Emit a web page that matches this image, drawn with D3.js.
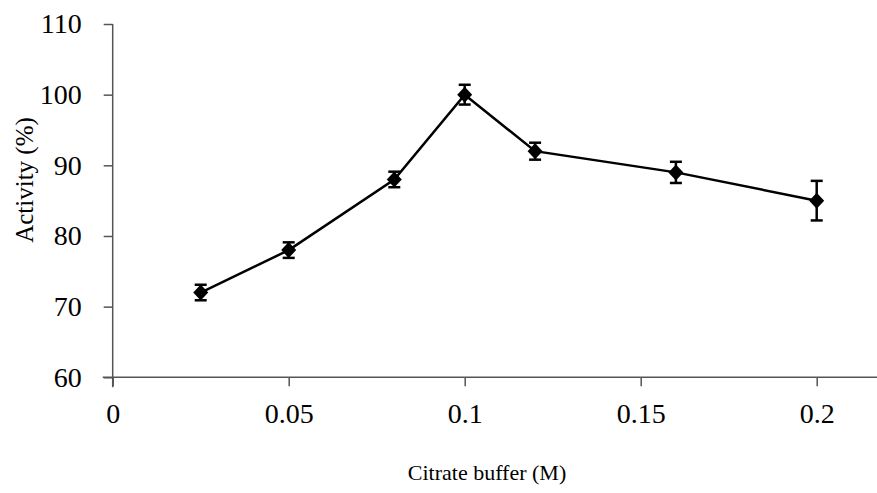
<!DOCTYPE html>
<html>
<head>
<meta charset="utf-8">
<script src="https://cdn.jsdelivr.net/npm/d3@7"></script>
<style>
  body { margin: 0; background: #fff; }
  text { font-family: "Liberation Serif", "Times New Roman", serif; }
</style>
</head>
<body>
<div id="chart"></div>
<script>
// citrate buffer concentration (M) vs relative activity (%)
var buffer = [0.025, 0.05, 0.08, 0.1, 0.12, 0.16, 0.2];
var activity = [72, 78, 88, 100, 92, 89, 85];
var errors = [1.1, 1.1, 1.1, 1.4, 1.2, 1.5, 2.8];
var xTicks = [0, 0.05, 0.1, 0.15, 0.2];
var yTicks = [60, 70, 80, 90, 100, 110];

var width = 877, height = 493;

var svg = d3.select("#chart").append("svg")
    .attr("width", width)
    .attr("height", height);

var x = d3.scaleLinear()
    .domain([0, 0.2])
    .range([112.7, 816.7]);

var y = d3.scaleLinear()
    .domain([60, 110])
    .range([377.3, 24]);

// x axis
var xAxis = d3.axisBottom(x)
    .tickValues(xTicks)
    .tickSize(9)
    .tickSizeOuter(0)
    .tickFormat(function (d) { return d; });

var gx = svg.append("g")
    .attr("transform", "translate(0," + y(60) + ")")
    .call(xAxis);
gx.select(".domain").remove();
gx.append("line")
    .attr("x1", x(0) - 10).attr("x2", width)
    .attr("stroke", "#555").attr("stroke-width", 1.5);
gx.selectAll(".tick line").attr("stroke", "#555").attr("stroke-width", 1.5);
gx.selectAll(".tick text")
    .attr("y", 26)
    .attr("dy", "0.71em")
    .attr("fill", "#000")
    .style("font-size", "28px")
    .style("font-family", "Liberation Serif");

// y axis
var yAxis = d3.axisLeft(y)
    .tickValues(yTicks)
    .tickSize(9)
    .tickSizeOuter(0);

var gy = svg.append("g")
    .attr("transform", "translate(" + x(0) + ",0)")
    .call(yAxis);
gy.select(".domain").remove();
gy.append("line")
    .attr("y1", y(110)).attr("y2", y(60) + 10)
    .attr("stroke", "#555").attr("stroke-width", 1.5);
gy.selectAll(".tick line").attr("stroke", "#555").attr("stroke-width", 1.5);
gy.selectAll(".tick text")
    .attr("x", -31)
    .attr("fill", "#000")
    .style("font-size", "28px")
    .style("font-family", "Liberation Serif");

// axis titles
svg.append("text")
    .attr("x", 487)
    .attr("y", 480)
    .attr("text-anchor", "middle")
    .style("font-size", "22px")
    .text("Citrate buffer (M)");

svg.append("text")
    .attr("transform", "translate(33,180) rotate(-90)")
    .attr("text-anchor", "middle")
    .style("font-size", "25px")
    .text("Activity (%)");

// line
var points = buffer.map(function (d, i) {
    return {x: d, y: activity[i], e: errors[i]};
});

var line = d3.line()
    .x(function (d) { return x(d.x); })
    .y(function (d) { return y(d.y); });

svg.append("path")
    .datum(points)
    .attr("d", line)
    .attr("fill", "none")
    .attr("stroke", "#000")
    .attr("stroke-width", 2.5);

// error bars
var eb = svg.selectAll(".err")
    .data(points)
    .enter().append("g")
    .attr("class", "err")
    .attr("stroke", "#000")
    .attr("stroke-width", 2.5);

eb.append("line")
    .attr("x1", function (d) { return x(d.x); })
    .attr("x2", function (d) { return x(d.x); })
    .attr("y1", function (d) { return y(d.y + d.e); })
    .attr("y2", function (d) { return y(d.y - d.e); });
eb.append("line")
    .attr("x1", function (d) { return x(d.x) - 6; })
    .attr("x2", function (d) { return x(d.x) + 6; })
    .attr("y1", function (d) { return y(d.y + d.e); })
    .attr("y2", function (d) { return y(d.y + d.e); });
eb.append("line")
    .attr("x1", function (d) { return x(d.x) - 6; })
    .attr("x2", function (d) { return x(d.x) + 6; })
    .attr("y1", function (d) { return y(d.y - d.e); })
    .attr("y2", function (d) { return y(d.y - d.e); });

// diamond markers
svg.selectAll(".pt")
    .data(points)
    .enter().append("path")
    .attr("class", "pt")
    .attr("d", "M0,-8L7.5,0L0,8L-7.5,0Z")
    .attr("transform", function (d) {
        return "translate(" + x(d.x) + "," + y(d.y) + ")";
    })
    .attr("fill", "#000");
</script>
</body>
</html>
